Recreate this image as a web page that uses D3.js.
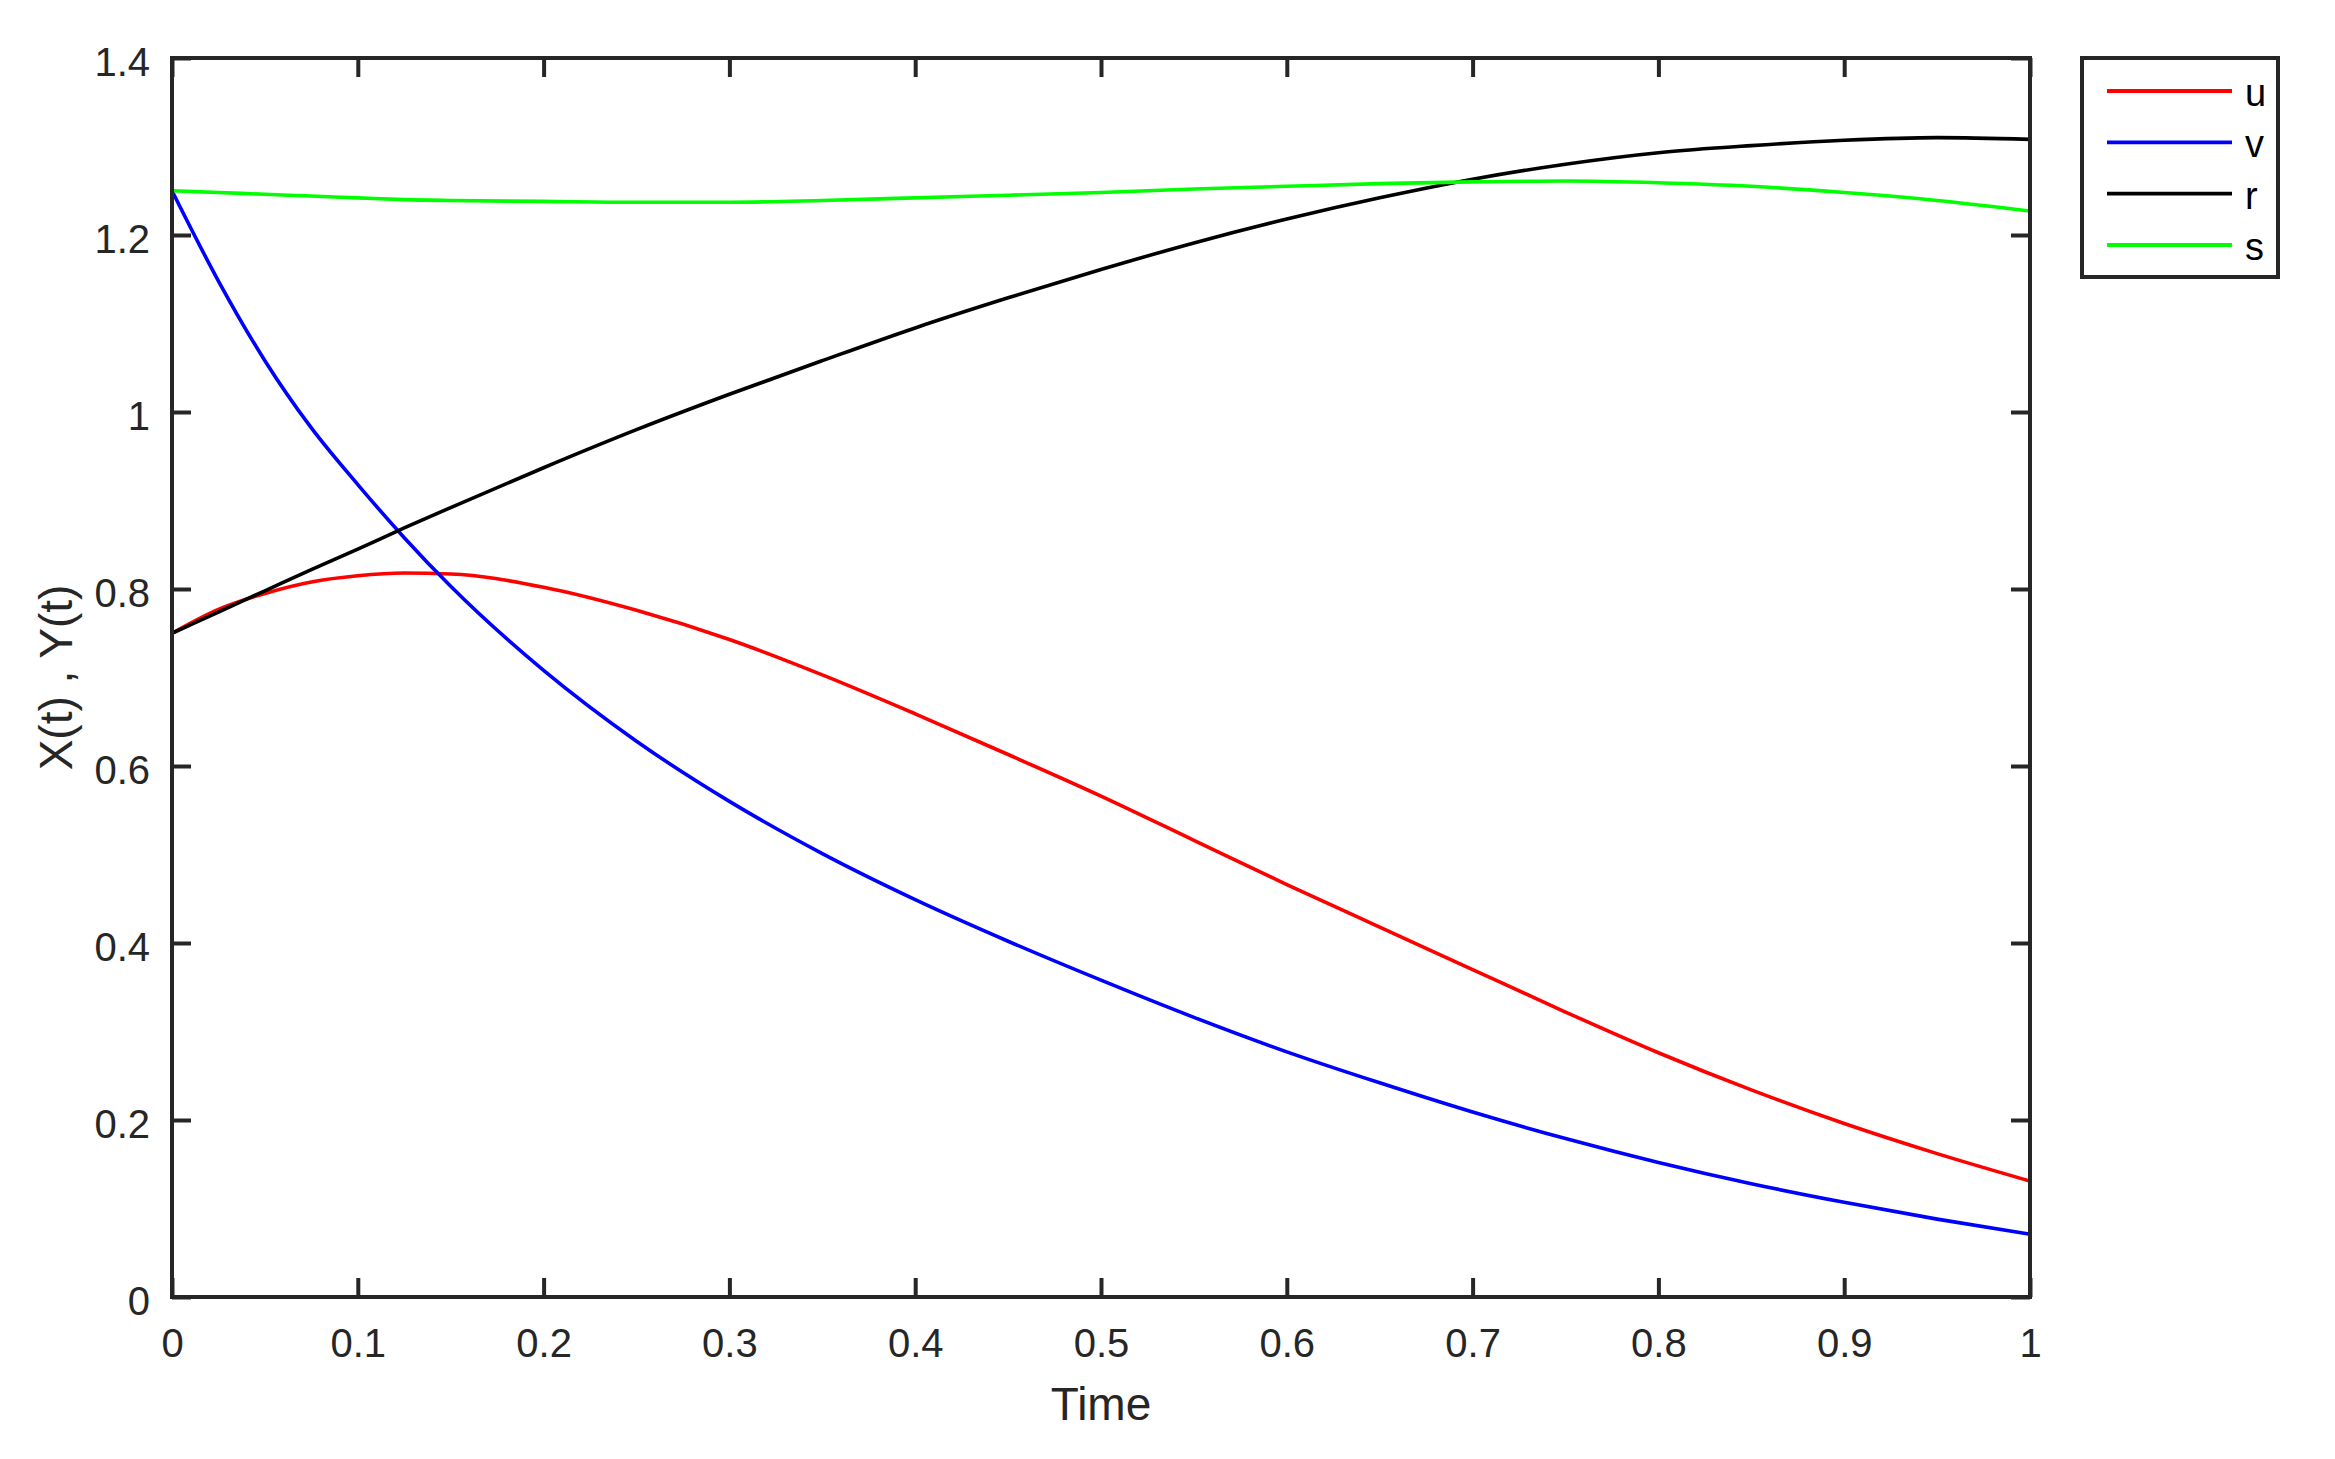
<!DOCTYPE html>
<html>
<head>
<meta charset="utf-8">
<script src="https://cdn.jsdelivr.net/npm/d3@7"></script>
<style>
html,body{margin:0;padding:0;background:#fff;}
svg{display:block;}
text{font-family:"Liberation Sans",Arial,Helvetica,sans-serif;}
</style>
</head>
<body>
<svg id="chart" width="2335" height="1459"></svg>
<script>
// ---- data ----
const time = [0,0.025,0.05,0.075,0.1,0.125,0.15,0.2,0.25,0.3,0.35,0.4,0.45,0.5,0.55,0.6,0.65,0.7,0.75,0.8,0.85,0.9,0.95,1.0];
const uVals = [0.75,0.777,0.795,0.808,0.815,0.818,0.817,0.802,0.776,0.743,0.703,0.659,0.613,0.566,0.516,0.466,0.418,0.370,0.322,0.276,0.234,0.196,0.162,0.131];
const vVals = [1.25,1.148,1.058,0.982,0.918,0.858,0.803,0.708,0.628,0.560,0.501,0.449,0.402,0.358,0.316,0.277,0.242,0.209,0.179,0.152,0.128,0.107,0.088,0.071];
const rVals = [0.75,0.774,0.798,0.822,0.845,0.869,0.892,0.937,0.980,1.020,1.058,1.095,1.129,1.161,1.191,1.218,1.242,1.263,1.280,1.293,1.301,1.307,1.310,1.308];
const sVals = [1.25,1.248,1.246,1.244,1.242,1.240,1.239,1.238,1.237,1.237,1.239,1.242,1.245,1.248,1.252,1.255,1.258,1.260,1.261,1.259,1.255,1.248,1.239,1.227];
const seriesNames = ["u","v","r","s"];
const seriesColors = ["#ff0000","#0000ff","#000000","#00ff00"];
const xTicks = [0,0.1,0.2,0.3,0.4,0.5,0.6,0.7,0.8,0.9,1];
const xTickLabels = ["0","0.1","0.2","0.3","0.4","0.5","0.6","0.7","0.8","0.9","1"];
const yTicks = [0,0.2,0.4,0.6,0.8,1,1.2,1.4];
const yTickLabels = ["0","0.2","0.4","0.6","0.8","1","1.2","1.4"];
const xLabel = "Time";
const yLabel = "X(t) , Y(t)";

// ---- layout ----
const L = 172, R = 2030, T = 58, B = 1297;
const axisColor = "#262626";
const svg = d3.select("#chart");

const x = d3.scaleLinear().domain([0,1]).range([L,R]);
const y = d3.scaleLinear().domain([0,1.4]).range([B,T]);

const tickLen = 19;
const fontTick = 40;

svg.append("clipPath").attr("id","clip").append("rect")
  .attr("x",L).attr("y",T).attr("width",R-L).attr("height",B-T);

const allVals = [uVals,vVals,rVals,sVals];
const line = d3.line().x(d=>x(d[0])).y(d=>y(d[1])).curve(d3.curveMonotoneX);
const g = svg.append("g").attr("clip-path","url(#clip)");
allVals.forEach((vals,i)=>{
  g.append("path")
    .datum(time.map((t,j)=>[t,vals[j]]))
    .attr("d",line)
    .attr("fill","none")
    .attr("stroke",seriesColors[i])
    .attr("stroke-width",3.6)
    .attr("stroke-linejoin","round");
});

const axB = svg.append("g").attr("transform",`translate(0,${B})`)
  .call(d3.axisBottom(x).tickValues(xTicks).tickFormat((d,i)=>xTickLabels[i]).tickSizeInner(-tickLen).tickSizeOuter(0).tickPadding(60));
const axT = svg.append("g").attr("transform",`translate(0,${T})`)
  .call(d3.axisTop(x).tickValues(xTicks).tickFormat("").tickSizeInner(-tickLen).tickSizeOuter(0));
const axL = svg.append("g").attr("transform",`translate(${L},0)`)
  .call(d3.axisLeft(y).tickValues(yTicks).tickFormat((d,i)=>yTickLabels[i]).tickSizeInner(-tickLen).tickSizeOuter(0).tickPadding(22));
const axR = svg.append("g").attr("transform",`translate(${R},0)`)
  .call(d3.axisRight(y).tickValues(yTicks).tickFormat("").tickSizeInner(-tickLen).tickSizeOuter(0));

[axB,axT,axL,axR].forEach(a=>{
  a.selectAll(".domain").remove();
  a.selectAll(".tick line").attr("stroke",axisColor).attr("stroke-width",4);
  a.selectAll(".tick text").attr("fill",axisColor).attr("font-size",fontTick)
    .attr("font-family","'Liberation Sans',Arial,sans-serif");
});
axB.selectAll(".tick text").attr("dy","0");
axL.selectAll(".tick text").attr("dy","17.5px");

svg.append("rect").attr("x",L).attr("y",T).attr("width",R-L).attr("height",B-T)
  .attr("fill","none").attr("stroke",axisColor).attr("stroke-width",4);

svg.append("text").attr("x",(L+R)/2).attr("y",1420).attr("text-anchor","middle")
  .attr("font-size",46).attr("fill",axisColor).text(xLabel);
svg.append("text").attr("transform",`translate(72,${(T+B)/2}) rotate(-90)`)
  .attr("text-anchor","middle").attr("font-size",46).attr("fill",axisColor).text(yLabel);

const lg = svg.append("g");
lg.append("rect").attr("x",2082).attr("y",58).attr("width",196).attr("height",219)
  .attr("fill","#fff").attr("stroke",axisColor).attr("stroke-width",4);
const legY = d3.scalePoint().domain(seriesNames).range([91,245]);
seriesNames.forEach((n,i)=>{
  lg.append("line").attr("x1",2107).attr("x2",2232).attr("y1",legY(n)).attr("y2",legY(n))
    .attr("stroke",seriesColors[i]).attr("stroke-width",3.8);
  lg.append("text").attr("x",2245).attr("y",legY(n)).attr("dy","15px")
    .attr("font-size",38).attr("fill","#000").text(n);
});
</script>
</body>
</html>
